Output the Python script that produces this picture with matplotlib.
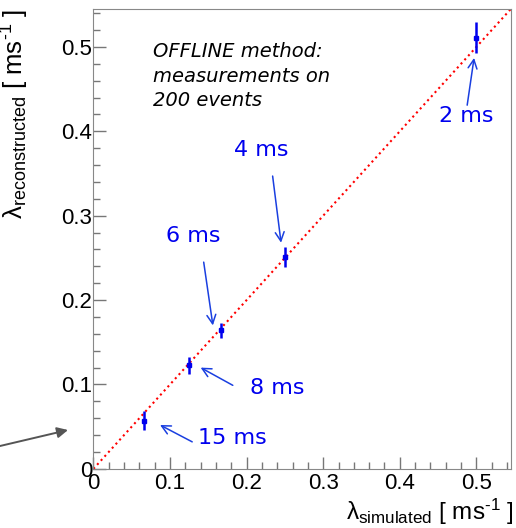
import matplotlib
matplotlib.use("Agg")
import matplotlib.pyplot as plt
from matplotlib.ticker import MultipleLocator

plt.rcParams['font.family'] = ['Liberation Sans', 'DejaVu Sans']
plt.rcParams['mathtext.fontset'] = 'custom'
plt.rcParams['mathtext.rm'] = 'Liberation Sans'
plt.rcParams['mathtext.it'] = 'Liberation Sans:italic'

# measured points (lambda = 1 / tau)
labels = ['15 ms', '8 ms', '6 ms', '4 ms', '2 ms']
lam_sim = [1 / 15, 1 / 8, 1 / 6, 1 / 4, 1 / 2]
lam_rec = [0.057, 0.123, 0.164, 0.251, 0.511]
lam_err = [0.011, 0.010, 0.009, 0.012, 0.018]

# label centre, arrow tail, arrow head (data coords)
text_pos = [(0.182, 0.037), (0.240, 0.096), (0.130, 0.276), (0.219, 0.378), (0.487, 0.418)]
arrow_tail = [(0.129, 0.032), (0.182, 0.099), (0.144, 0.245), (0.234, 0.347), (0.488, 0.431)]
arrow_head = [(0.087, 0.052), (0.140, 0.120), (0.156, 0.170), (0.245, 0.268), (0.497, 0.487)]

lim = 0.545
comic = ['DejaVu Sans']

fig = plt.figure(figsize=(5.16, 5.28), dpi=100)
ax = fig.add_axes([0.181, 0.112, 0.809, 0.871])

ax.plot([0, lim], [0, lim], color='red', ls=':', lw=1.5)
ax.errorbar(lam_sim, lam_rec, yerr=lam_err, fmt='s', color='#0000ee',
            ms=3.5, elinewidth=1.8, capsize=0)

for lab, tp, tt, th in zip(labels, text_pos, arrow_tail, arrow_head):
    ax.text(tp[0], tp[1], lab, color='#0000ee', fontsize=16,
            ha='center', va='center', family=comic)
    ax.annotate('', xy=th, xytext=tt,
                arrowprops=dict(arrowstyle='->', color='#1a3fe0', lw=1.1,
                                mutation_scale=16, shrinkA=0, shrinkB=0))

ax.text(0.078, 0.506, 'OFFLINE method:\nmeasurements on\n200 events',
        fontsize=14, style='italic', va='top', ha='left', linespacing=1.38,
        family=comic)

# gray arrow coming from outside the frame
ax.annotate('', xy=(68, 98), xycoords='figure pixels',
            xytext=(0, 82), textcoords='figure pixels',
            arrowprops=dict(arrowstyle='-|>', color='#555555', lw=1.4,
                            mutation_scale=16, shrinkA=0, shrinkB=0),
            annotation_clip=False)

ax.set_xlim(0, lim)
ax.set_ylim(0, lim)
for a in (ax.xaxis, ax.yaxis):
    a.set_major_locator(MultipleLocator(0.1))
    a.set_minor_locator(MultipleLocator(0.02))
ax.tick_params(which='both', direction='in', color='#777777', labelsize=16)
ax.tick_params(which='major', length=9, width=1)
ax.tick_params(which='minor', length=5, width=1)
ax.tick_params(axis='x', pad=3)
ax.tick_params(axis='y', pad=1)
for s in ax.spines.values():
    s.set_color('#888888')

ax.set_xticks([0, 0.1, 0.2, 0.3, 0.4, 0.5])
ax.set_xticklabels(['0', '0.1', '0.2', '0.3', '0.4', '0.5'])
ax.set_yticks([0, 0.1, 0.2, 0.3, 0.4, 0.5])
ax.set_yticklabels(['0', '0.1', '0.2', '0.3', '0.4', '0.5'])

ax.set_xlabel('λ$_{\\mathrm{simulated}}$ [ ms$^{\\mathrm{\u2010}1}$ ]', fontsize=17.5, loc='right')
ax.set_ylabel('λ$_{\\mathrm{reconstructed}}$ [ ms$^{\\mathrm{\u2010}1}$ ]', fontsize=18.5, loc='top')
ax.xaxis.set_label_coords(1.007, -0.06)
ax.yaxis.set_label_coords(-0.15, 1.0)

fig.savefig('out.png', dpi=100)
